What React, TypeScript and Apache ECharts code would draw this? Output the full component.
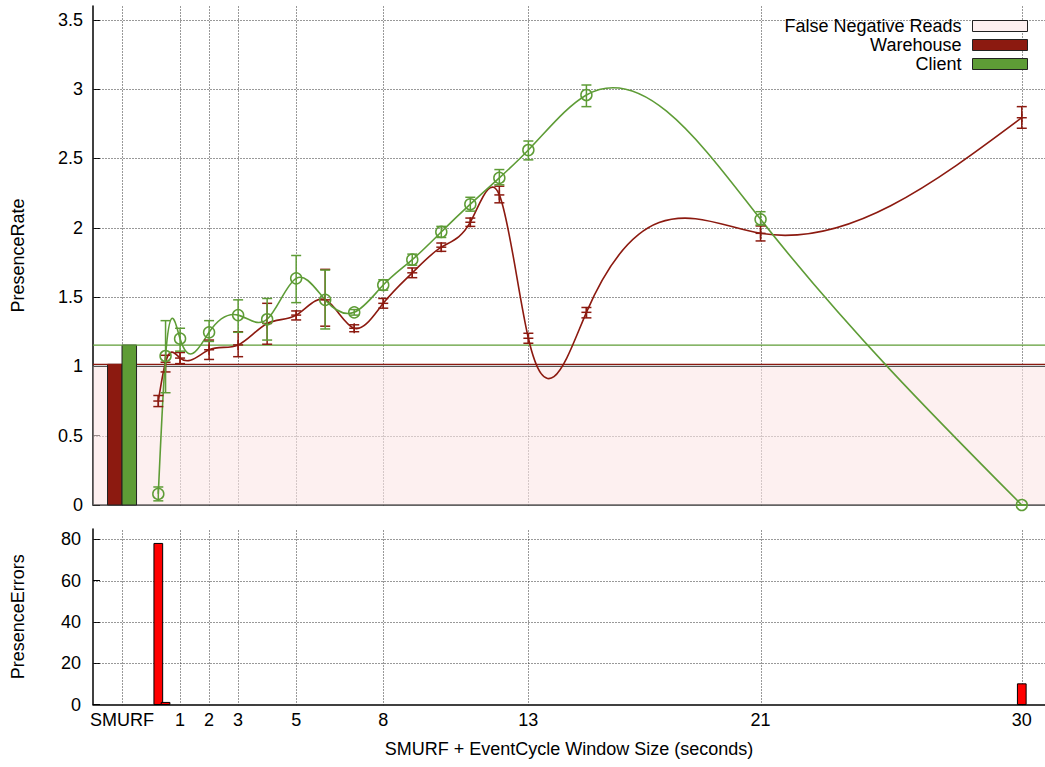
import React, { useEffect, useRef } from "react";
import * as echarts from "echarts";

// EventCycle window sizes (seconds) at which both readers were measured
const windowSizes = [0.25, 0.5, 1, 2, 3, 4, 5, 6, 7, 8, 9, 10, 11, 12, 13, 15, 21, 30];

// Warehouse presence rate: mean, lower and upper error bounds
const warehouseMean = [0.75, 1.03, 1.06, 1.12, 1.155, 1.31, 1.37, 1.48, 1.275, 1.455, 1.675, 1.86, 2.04, 2.237, 1.203, 1.39, 1.96, 2.794];
const warehouseLow = [0.71, 0.96, 1.02, 1.05, 1.07, 1.16, 1.335, 1.29, 1.25, 1.42, 1.64, 1.83, 2.01, 2.18, 1.167, 1.35, 1.905, 2.718];
const warehouseHigh = [0.79, 1.08, 1.1, 1.19, 1.25, 1.455, 1.4, 1.7, 1.3, 1.49, 1.71, 1.89, 2.07, 2.3, 1.239, 1.425, 2.013, 2.874];

// Client presence rate: mean, lower and upper error bounds
const clientMean = [0.08, 1.075, 1.2, 1.246, 1.37, 1.34, 1.635, 1.48, 1.39, 1.587, 1.77, 1.97, 2.17, 2.36, 2.561, 2.958, 2.061, 0];
const clientLow = [0.03, 0.81, 1.11, 1.18, 1.246, 1.19, 1.46, 1.27, 1.37, 1.55, 1.73, 1.93, 2.12, 2.31, 2.49, 2.874, 2.02, 0];
const clientHigh = [0.13, 1.33, 1.275, 1.33, 1.48, 1.49, 1.8, 1.695, 1.41, 1.625, 1.81, 2.01, 2.22, 2.42, 2.626, 3.03, 2.116, 0];

// SMURF baseline presence rates: [Warehouse, Client]
const smurfRates = [1.015, 1.154];

// Rates below this are false negative reads
const falseNegativeCeiling = 1;

// Presence errors per window size
const errorWindows = [0.25, 0.5, 30];
const errorCounts = [78, 1, 10];

// Axis ticks
const xTickValues = [-1, 1, 2, 3, 5, 8, 13, 21, 30];
const xTickLabels = ["SMURF", "1", "2", "3", "5", "8", "13", "21", "30"];
const rateTicks = [0, 0.5, 1, 1.5, 2, 2.5, 3, 3.5];
const errorTicks = [0, 20, 40, 60, 80];

const X_MIN = -2;
const X_MAX = 30.8;
const RATE_MAX = 3.6;
const ERROR_MAX = 85;

const WAREHOUSE = "#8c1a10";
const CLIENT = "#5e9c36";
const FONT = "'Liberation Sans', Arial, Helvetica, sans-serif";

// Slopes of the natural cubic spline through (xs, ys)
function splineSlopes(xs: number[], ys: number[]): number[] {
  const n = xs.length;
  const h: number[] = [];
  for (let i = 0; i < n - 1; i++) h[i] = xs[i + 1] - xs[i];
  const M = new Array(n).fill(0);
  const a: number[] = [], b: number[] = [], c: number[] = [], d: number[] = [];
  for (let i = 1; i < n - 1; i++) {
    a[i] = h[i - 1];
    b[i] = 2 * (h[i - 1] + h[i]);
    c[i] = h[i];
    d[i] = 6 * ((ys[i + 1] - ys[i]) / h[i] - (ys[i] - ys[i - 1]) / h[i - 1]);
  }
  for (let i = 2; i < n - 1; i++) {
    const w = a[i] / b[i - 1];
    b[i] -= w * c[i - 1];
    d[i] -= w * d[i - 1];
  }
  for (let i = n - 2; i >= 1; i--) {
    M[i] = (d[i] - c[i] * M[i + 1]) / b[i];
  }
  const m: number[] = [];
  for (let i = 0; i < n - 1; i++) {
    m[i] = (ys[i + 1] - ys[i]) / h[i] - (h[i] * (2 * M[i] + M[i + 1])) / 6;
  }
  m[n - 1] = (ys[n - 1] - ys[n - 2]) / h[n - 2] + (h[n - 2] * (M[n - 2] + 2 * M[n - 1])) / 6;
  return m;
}

// Smooth curve (cubic Bezier segments of the spline) through the means
function splineSeries(name: string, ys: number[], color: string) {
  const slopes = splineSlopes(windowSizes, ys);
  return {
    name,
    type: "custom",
    xAxisIndex: 0,
    yAxisIndex: 0,
    silent: true,
    z: 4,
    data: [[windowSizes[0], ys[0]]],
    renderItem: (_p: any, api: any) => {
      const pt = (x: number, y: number) => {
        const c = api.coord([x, y]);
        return `${c[0].toFixed(2)},${c[1].toFixed(2)}`;
      };
      let d = `M${pt(windowSizes[0], ys[0])}`;
      for (let i = 0; i < windowSizes.length - 1; i++) {
        const x0 = windowSizes[i];
        const x1 = windowSizes[i + 1];
        const h = x1 - x0;
        d += ` C${pt(x0 + h / 3, ys[i] + (slopes[i] * h) / 3)} ${pt(x1 - h / 3, ys[i + 1] - (slopes[i + 1] * h) / 3)} ${pt(x1, ys[i + 1])}`;
      }
      return {
        type: "path",
        shape: { pathData: d },
        style: { stroke: color, fill: "none", lineWidth: 1.6 },
      };
    },
  };
}

// Error bars with a point marker at the mean
function errorBarSeries(name: string, mean: number[], low: number[], high: number[], color: string, marker: "plus" | "circle") {
  return {
    name,
    type: "custom",
    xAxisIndex: 0,
    yAxisIndex: 0,
    silent: true,
    z: 5,
    data: windowSizes.map((x, i) => [x, mean[i], low[i], high[i]]),
    renderItem: (_p: any, api: any) => {
      const x = api.value(0);
      const pm = api.coord([x, api.value(1)]);
      const pl = api.coord([x, api.value(2)]);
      const ph = api.coord([x, api.value(3)]);
      const style = { stroke: color, lineWidth: 1.5, fill: "none" };
      const cap = 5;
      const children: any[] = [
        { type: "line", shape: { x1: pl[0], y1: pl[1], x2: ph[0], y2: ph[1] }, style },
        { type: "line", shape: { x1: pl[0] - cap, y1: pl[1], x2: pl[0] + cap, y2: pl[1] }, style },
        { type: "line", shape: { x1: ph[0] - cap, y1: ph[1], x2: ph[0] + cap, y2: ph[1] }, style },
      ];
      if (marker === "circle") {
        children.push({ type: "circle", shape: { cx: pm[0], cy: pm[1], r: 5.5 }, style });
      } else {
        children.push({ type: "line", shape: { x1: pm[0] - 5, y1: pm[1], x2: pm[0] + 5, y2: pm[1] }, style });
        children.push({ type: "line", shape: { x1: pm[0], y1: pm[1] - 5, x2: pm[0], y2: pm[1] + 5 }, style });
      }
      return { type: "group", children };
    },
  };
}

// SMURF baseline bar plus its reference line across the plot
function smurfSeries(name: string, index: number, color: string) {
  const barWidth = 0.5;
  return {
    name,
    type: "custom",
    xAxisIndex: 0,
    yAxisIndex: 0,
    silent: true,
    z: 3,
    data: [[xTickValues[0], smurfRates[index]]],
    renderItem: (_p: any, api: any) => {
      const center = api.value(0);
      const v = api.value(1);
      const left = center + (index - 1) * barWidth;
      const p0 = api.coord([left, v]);
      const p1 = api.coord([left + barWidth, 0]);
      const l0 = api.coord([X_MIN, v]);
      const l1 = api.coord([X_MAX, v]);
      return {
        type: "group",
        children: [
          {
            type: "rect",
            shape: { x: p0[0], y: p0[1], width: p1[0] - p0[0], height: p1[1] - p0[1] },
            style: { fill: color, stroke: "#222", lineWidth: 1 },
          },
          {
            type: "line",
            shape: { x1: l0[0], y1: l0[1], x2: l1[0], y2: l1[1] },
            style: { stroke: color, lineWidth: 1.3 },
          },
        ],
      };
    },
  };
}

// Dotted grid lines at the tick values
function gridSeries(gridIndex: number, orient: "v" | "h", values: number[], yMax: number) {
  return {
    type: "custom",
    xAxisIndex: gridIndex,
    yAxisIndex: gridIndex,
    silent: true,
    z: 1,
    data: values.map((v) => (orient === "v" ? [v, 0] : [0, v])),
    renderItem: (_p: any, api: any) => {
      let a, b;
      if (orient === "v") {
        a = api.coord([api.value(0), 0]);
        b = api.coord([api.value(0), yMax]);
      } else {
        a = api.coord([X_MIN, api.value(1)]);
        b = api.coord([X_MAX, api.value(1)]);
      }
      return {
        type: "line",
        shape: { x1: Math.round(a[0]) + 0.5, y1: Math.round(a[1]) + 0.5, x2: Math.round(b[0]) + 0.5, y2: Math.round(b[1]) + 0.5 },
        style: { stroke: "#333", lineWidth: 1, lineDash: [1, 2] },
      };
    },
  };
}

export default function App() {
  const ref = useRef<HTMLDivElement>(null);

  useEffect(() => {
    if (!ref.current) return;
    const chart = echarts.init(ref.current, null, { renderer: "svg" });

    const axisText = { color: "#000", fontSize: 18, fontFamily: FONT };

    const option: any = {
      animation: false,
      backgroundColor: "#fff",
      textStyle: { fontFamily: FONT },
      legend: {
        orient: "vertical",
        right: 12,
        top: 12,
        align: "right",
        icon: "rect",
        itemWidth: 55,
        itemHeight: 11,
        itemGap: 1,
        selectedMode: false,
        textStyle: { color: "#000", fontSize: 18, fontFamily: FONT, padding: [0, 6, 0, 0] },
        data: [
          { name: "False Negative Reads", itemStyle: { color: "#fdf0f0", borderColor: "#222", borderWidth: 1 } },
          { name: "Warehouse", itemStyle: { color: WAREHOUSE, borderColor: "#222", borderWidth: 1 } },
          { name: "Client", itemStyle: { color: CLIENT, borderColor: "#222", borderWidth: 1 } },
        ],
      },
      grid: [
        { left: 93, top: 6, width: 952, height: 499 },
        { left: 93, top: 529, width: 952, height: 175.5 },
      ],
      xAxis: [
        {
          gridIndex: 0,
          type: "value",
          min: X_MIN,
          max: X_MAX,
          axisLine: { show: true, onZero: false, lineStyle: { color: "#444", width: 1.5 } },
          axisTick: { show: false },
          axisLabel: { show: false },
          splitLine: { show: false },
        },
        {
          gridIndex: 1,
          type: "value",
          min: X_MIN,
          max: X_MAX,
          axisLine: { show: true, onZero: false, lineStyle: { color: "#000", width: 1.5 } },
          axisTick: { show: false },
          axisLabel: {
            ...axisText,
            margin: 6,
            customValues: xTickValues,
            formatter: (v: number) => {
              const i = xTickValues.indexOf(v);
              return i >= 0 ? xTickLabels[i] : "";
            },
          },
          splitLine: { show: false },
          name: "SMURF + EventCycle Window Size (seconds)",
          nameLocation: "middle",
          nameGap: 35,
          nameTextStyle: axisText,
        },
      ],
      yAxis: [
        {
          gridIndex: 0,
          type: "value",
          min: 0,
          max: RATE_MAX,
          axisLine: { show: true, onZero: false, lineStyle: { color: "#000", width: 1.5 } },
          axisTick: { show: true, inside: true, length: 7, customValues: rateTicks, lineStyle: { color: "#000" } },
          axisLabel: { ...axisText, margin: 10, customValues: rateTicks, formatter: (v: number) => String(v) },
          splitLine: { show: false },
          name: "PresenceRate",
          nameLocation: "middle",
          nameGap: 66,
          nameTextStyle: axisText,
        },
        {
          gridIndex: 1,
          type: "value",
          min: 0,
          max: ERROR_MAX,
          axisLine: { show: true, onZero: false, lineStyle: { color: "#000", width: 1.5 } },
          axisTick: { show: true, inside: true, length: 7, customValues: errorTicks, lineStyle: { color: "#000" } },
          axisLabel: { ...axisText, margin: 12, customValues: errorTicks, formatter: (v: number) => String(v) },
          splitLine: { show: false },
          name: "PresenceErrors",
          nameLocation: "middle",
          nameGap: 66,
          nameTextStyle: axisText,
        },
      ],
      series: [
        gridSeries(0, "v", xTickValues, RATE_MAX),
        gridSeries(0, "h", rateTicks.filter((v) => v > 0), RATE_MAX),
        gridSeries(1, "v", xTickValues, ERROR_MAX),
        gridSeries(1, "h", errorTicks.filter((v) => v > 0), ERROR_MAX),
        {
          name: "False Negative Reads",
          type: "custom",
          xAxisIndex: 0,
          yAxisIndex: 0,
          silent: true,
          z: 2,
          itemStyle: { color: "#fdf0f0" },
          data: [[X_MIN, falseNegativeCeiling]],
          renderItem: (_p: any, api: any) => {
            const p0 = api.coord([X_MIN, api.value(1)]);
            const p1 = api.coord([X_MAX, 0]);
            return {
              type: "rect",
              shape: { x: p0[0], y: p0[1], width: p1[0] - p0[0] + 3, height: p1[1] - p0[1] },
              style: { fill: "rgba(252,230,230,0.6)", stroke: "#555", lineWidth: 1.2 },
            };
          },
        },
        smurfSeries("Warehouse", 0, WAREHOUSE),
        smurfSeries("Client", 1, CLIENT),
        splineSeries("Warehouse", warehouseMean, WAREHOUSE),
        splineSeries("Client", clientMean, CLIENT),
        errorBarSeries("Warehouse", warehouseMean, warehouseLow, warehouseHigh, WAREHOUSE, "plus"),
        errorBarSeries("Client", clientMean, clientLow, clientHigh, CLIENT, "circle"),
        {
          name: "PresenceErrors",
          type: "custom",
          xAxisIndex: 1,
          yAxisIndex: 1,
          silent: true,
          z: 3,
          data: errorWindows.map((x, i) => [x, errorCounts[i]]),
          renderItem: (_p: any, api: any) => {
            const half = 0.15;
            const x = api.value(0);
            const p0 = api.coord([x - half, api.value(1)]);
            const p1 = api.coord([x + half, 0]);
            return {
              type: "rect",
              shape: { x: p0[0], y: p0[1], width: p1[0] - p0[0], height: p1[1] - p0[1] },
              style: { fill: "#ff0000", stroke: "#000", lineWidth: 1 },
            };
          },
        },
      ],
    };

    chart.setOption(option);
    return () => chart.dispose();
  }, []);

  return (
    <div
      ref={ref}
      style={{ position: "absolute", left: 0, top: 0, width: 1045, height: 767, background: "#fff" }}
    />
  );
}
